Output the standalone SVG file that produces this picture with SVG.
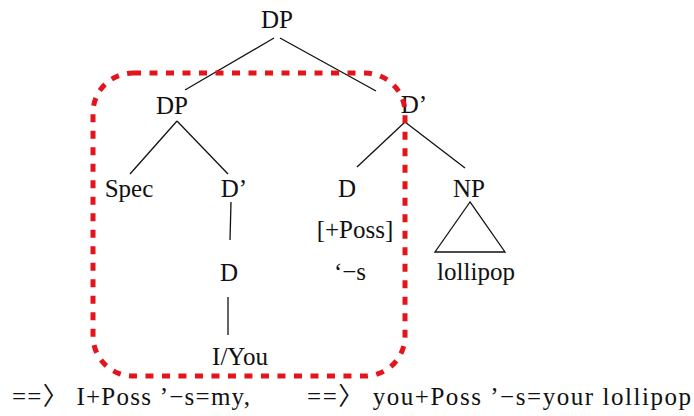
<svg xmlns="http://www.w3.org/2000/svg" width="694" height="416" viewBox="0 0 694 416">
<style>
text{font-size:25px;fill:#111;}
.n text{text-anchor:middle;}
.e line,.e polygon{stroke:#111;stroke-width:1.3;fill:none;}
.box{fill:none;stroke:#e3141b;stroke-width:5;stroke-dasharray:8 8.5;}
</style>
<rect width="694" height="416" fill="#fff"/>
<g id="connectors" class="e">
<line x1="274" y1="38" x2="185" y2="90"/>
<line x1="280" y1="38" x2="376" y2="91"/>
<line x1="177" y1="121" x2="130" y2="174"/>
<line x1="177" y1="121" x2="228" y2="174"/>
<line x1="405" y1="122" x2="357" y2="167"/>
<line x1="405" y1="122" x2="465" y2="168"/>
<line x1="231" y1="202" x2="230" y2="240"/>
<line x1="228" y1="297" x2="228" y2="335"/>
<polygon points="470,202 435,252 505,252"/>
</g>
<g class="n" font-family="'Liberation Serif', 'DejaVu Serif', serif">
<g id="dp-top"><text x="277" y="28">DP</text></g>
<g id="dp"><text x="172" y="114">DP</text></g>
<g id="dbar-right"><text x="414" y="113">D’</text></g>
<g id="spec"><text x="129" y="197">Spec</text></g>
<g id="dbar-mid"><text x="234" y="197">D’</text></g>
<g id="d-right"><text x="347" y="197">D</text></g>
<g id="np"><text x="469" y="197">NP</text></g>
<g id="poss"><text x="355" y="238">[+Poss]</text></g>
<g id="s"><text x="350" y="280">‘−s</text></g>
<g id="d-mid"><text x="229" y="281">D</text></g>
<g id="iyou"><text x="240" y="365">I/You</text></g>
<g id="lollipop"><text x="476" y="280">lollipop</text></g>
</g>
<rect id="highlight" class="box" x="93" y="73" width="312" height="303" rx="40"/>
<g id="result" font-family="'Liberation Serif', 'DejaVu Serif', 'Noto Sans CJK SC', serif">
<text x="12" y="405" textLength="238" lengthAdjust="spacing">==〉 I+Poss ’−s=my,</text>
<text x="307" y="405" textLength="384" lengthAdjust="spacing">==〉 you+Poss ’−s=your lollipop</text>
</g>
</svg>
